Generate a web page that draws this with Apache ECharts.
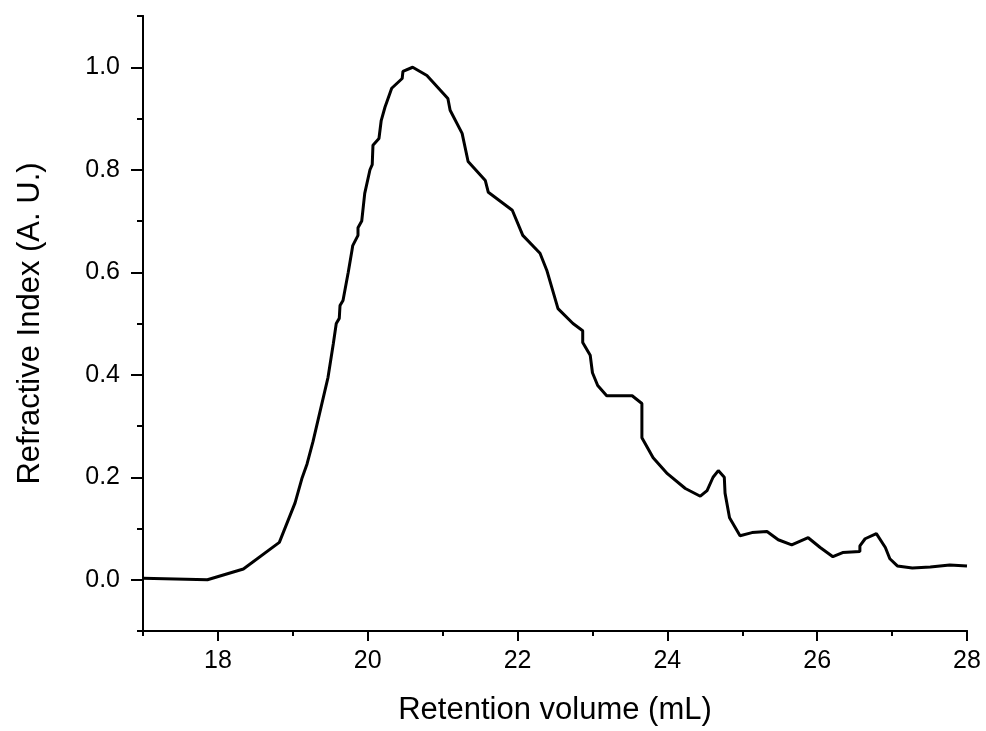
<!DOCTYPE html>
<html>
<head>
<meta charset="utf-8">
<script src="https://cdn.jsdelivr.net/npm/echarts@6/dist/echarts.min.js"></script>
<style>html,body{margin:0;padding:0;background:#fff}#c{width:986px;height:731px}</style>
</head>
<body>
<div id="c"></div>
<script>
const retentionVolume = [17.0,17.86,18.34,18.82,19.03,19.12,19.19,19.27,19.47,19.54,19.58,19.62,19.63,19.67,19.74,19.79,19.80,19.87,19.87,19.92,19.96,20.03,20.06,20.07,20.15,20.18,20.23,20.32,20.46,20.47,20.60,20.79,21.07,21.10,21.26,21.34,21.57,21.61,21.93,22.07,22.30,22.39,22.54,22.74,22.87,22.87,22.97,23.00,23.07,23.19,23.53,23.66,23.66,23.81,24.00,24.24,24.44,24.53,24.61,24.68,24.76,24.77,24.83,24.97,25.13,25.33,25.48,25.66,25.88,26.04,26.21,26.34,26.57,26.57,26.64,26.79,26.91,26.97,27.07,27.27,27.51,27.77,28.0];
const refractiveIndex = [0.003,0.0,0.021,0.073,0.15,0.197,0.226,0.27,0.395,0.46,0.50,0.51,0.535,0.545,0.60,0.643,0.652,0.672,0.687,0.70,0.754,0.80,0.81,0.848,0.861,0.896,0.922,0.959,0.978,0.992,1.0,0.984,0.939,0.916,0.871,0.816,0.779,0.756,0.721,0.672,0.637,0.604,0.529,0.50,0.486,0.463,0.438,0.404,0.379,0.359,0.359,0.344,0.277,0.238,0.207,0.178,0.163,0.174,0.20,0.213,0.20,0.169,0.121,0.086,0.092,0.094,0.078,0.068,0.082,0.063,0.045,0.053,0.055,0.066,0.08,0.09,0.063,0.041,0.027,0.023,0.025,0.029,0.027];
const xMajorTicks = [18,20,22,24,26,28];
const xMinorTicks = [17,19,21,23,25,27];
const yMajorTicks = [0,0.2,0.4,0.6,0.8,1.0];
const yMinorTicks = [-0.1,0.1,0.3,0.5,0.7,0.9,1.1];
const xTitle = 'Retention volume (mL)';
const yTitle = 'Refractive Index (A. U.)';

const font = 'Liberation Sans, Arial, sans-serif';
const chart = echarts.init(document.getElementById('c'), null, {renderer:'canvas'});
const lineStyle = {color:'#000', width:2};
const baseX = {type:'value', min:17, max:28, splitLine:{show:false}, axisLine:{show:true, onZero:false, lineStyle}};
const baseY = {type:'value', min:-0.1, max:1.1, splitLine:{show:false}, axisLine:{show:true, onZero:false, lineStyle}};
chart.setOption({
  animation:false,
  backgroundColor:'#fff',
  grid:{left:143, right:19, top:16, bottom:99, containLabel:false},
  xAxis:[
    Object.assign({}, baseX, {
      name:xTitle, nameLocation:'middle', nameGap:64,
      nameTextStyle:{fontFamily:font, fontSize:31, color:'#000'},
      axisTick:{show:true, inside:false, length:10, customValues:xMajorTicks, lineStyle},
      axisLabel:{show:true, margin:18, customValues:xMajorTicks, fontFamily:font, fontSize:25, color:'#000'}
    }),
    Object.assign({}, baseX, {
      position:'bottom',
      axisTick:{show:true, inside:false, length:5, customValues:xMinorTicks, lineStyle},
      axisLabel:{show:false}
    })
  ],
  yAxis:[
    Object.assign({}, baseY, {
      name:yTitle, nameLocation:'middle', nameGap:97,
      nameTextStyle:{fontFamily:font, fontSize:31, color:'#000'},
      axisTick:{show:true, inside:false, length:12, customValues:yMajorTicks, lineStyle},
      axisLabel:{show:true, margin:23, customValues:yMajorTicks, fontFamily:font, fontSize:25, color:'#000',
        formatter:v=>Number(v).toFixed(1)}
    }),
    Object.assign({}, baseY, {
      position:'left',
      axisTick:{show:true, inside:false, length:6, customValues:yMinorTicks, lineStyle},
      axisLabel:{show:false}
    })
  ],
  series:[{
    type:'line',
    xAxisIndex:0, yAxisIndex:0,
    data:retentionVolume.map((x,i)=>[x, refractiveIndex[i]]),
    showSymbol:false, symbol:'none',
    lineStyle:{color:'#000', width:3},
    smooth:false
  }]
});
</script>
</body>
</html>
